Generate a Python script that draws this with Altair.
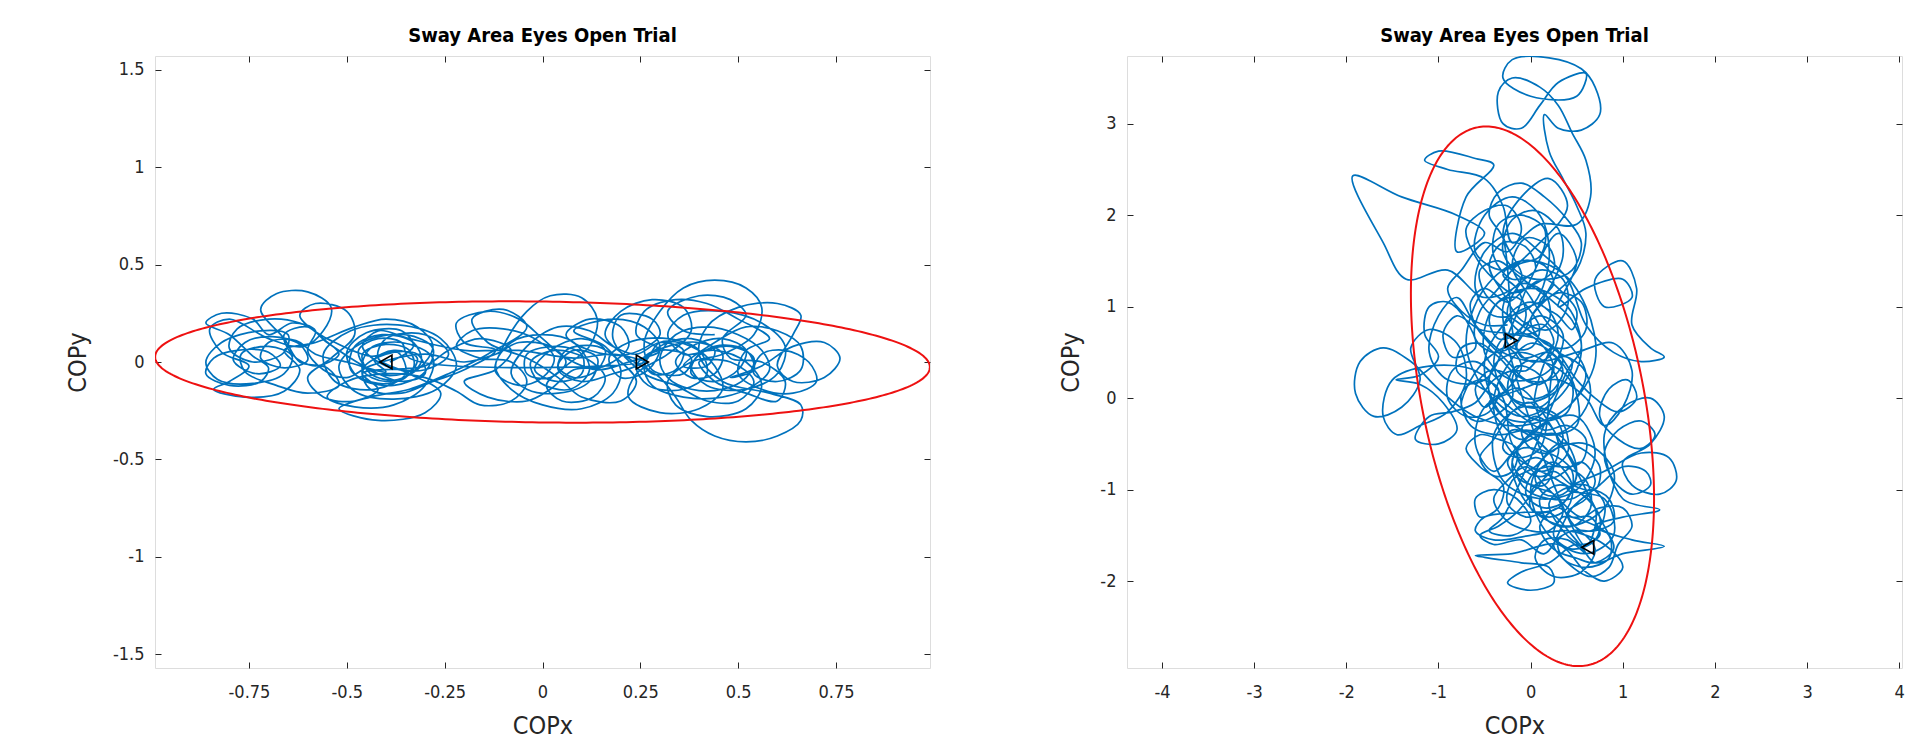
import altair as alt
import numpy as np
import pandas as pd

TITLE = "Sway Area Eyes Open Trial"

# ---------------- Left panel data ----------------
left_x_ticks = [-0.75, -0.5, -0.25, 0, 0.25, 0.5, 0.75]
left_y_ticks = [-1.5, -1, -0.5, 0, 0.5, 1, 1.5]
left_x_domain = [-0.99, 0.99]
left_y_domain = [-1.57, 1.57]

left_cop_x = [
    -0.39, -0.33, -0.36, -0.45, -0.50, -0.47, -0.38, -0.30, -0.28, -0.35, -0.46, -0.52, -0.48, -0.38, -0.27, -0.22, -0.26, -0.37, -0.49, -0.56, -0.53, -0.43, -0.35, -0.37, -0.44,
    -0.55, -0.62, -0.70, -0.78, -0.80, -0.74, -0.66, -0.65, -0.72, -0.82, -0.86, -0.83, -0.74, -0.66, -0.64, -0.70, -0.77, -0.76, -0.68, -0.60, -0.52, -0.55, -0.62,
    -0.66, -0.72, -0.68, -0.60, -0.54, -0.56, -0.61,
    -0.70, -0.80, -0.85, -0.82, -0.75, -0.80, -0.84, -0.76, -0.66, -0.62, -0.66, -0.58,
    -0.48, -0.40, -0.32, -0.28, -0.32, -0.40, -0.46, -0.44, -0.36, -0.28, -0.30, -0.38, -0.48, -0.55, -0.50,
    -0.40, -0.30, -0.22, -0.16, -0.08, -0.04, -0.08, -0.16, -0.22, -0.18, -0.10,
    -0.02, 0.03, 0.00, -0.06, -0.12, -0.10, -0.04, 0.02, 0.10, 0.14, 0.12, 0.06, 0.01, 0.05, 0.13, 0.16, 0.11, 0.03, -0.03, -0.01, 0.07, 0.12, 0.08, 0.00, -0.08, -0.12, -0.08, 0.00, 0.10, 0.18, 0.20, 0.16, 0.08,
    0.18, 0.26, 0.30, 0.27, 0.20, 0.17, 0.22, 0.32, 0.40, 0.42, 0.36, 0.27, 0.24, 0.30, 0.38, 0.36, 0.28,
    0.26, 0.30, 0.36, 0.44, 0.52, 0.56, 0.54, 0.46, 0.38, 0.32, 0.34, 0.42, 0.52, 0.56, 0.52, 0.44, 0.36,
    0.32, 0.36, 0.46, 0.56, 0.62, 0.60, 0.52, 0.42, 0.38, 0.44, 0.52, 0.54, 0.48,
    0.56, 0.64, 0.72, 0.76, 0.72, 0.64, 0.60, 0.64, 0.66, 0.60, 0.50,
    0.42, 0.40, 0.46, 0.58, 0.66, 0.66, 0.60, 0.52, 0.44, 0.38, 0.34, 0.30,
    0.22, 0.16, 0.20, 0.28, 0.36, 0.38, 0.32, 0.24, 0.22, 0.30, 0.40, 0.46, 0.44, 0.38, 0.30, 0.26,
    0.18, 0.10, 0.04, 0.06, 0.14, 0.20, 0.24, 0.20, 0.10, 0.04, -0.04, -0.14, -0.18, -0.10, -0.04,
    -0.14, -0.24, -0.34, -0.44, -0.52, -0.42, -0.30, -0.26, -0.34, -0.42, -0.40, -0.30, -0.24, -0.30, -0.40, -0.46, -0.42, -0.34,
    -0.20, -0.06, 0.08, 0.18, 0.26,
]
left_cop_y = [
    0.00, 0.08, 0.16, 0.15, 0.05, -0.08, -0.12, -0.05, 0.07, 0.14, 0.10, -0.02, -0.15, -0.19, -0.14, -0.02, 0.12, 0.19, 0.16, 0.04, -0.10, -0.14, -0.06, 0.05, 0.03,
    0.12, 0.20, 0.22, 0.17, 0.07, 0.00, 0.05, 0.14, 0.16, 0.10, 0.00, -0.09, -0.11, -0.06, 0.03, 0.08, 0.04, -0.05, -0.12, -0.16, -0.12, -0.03, 0.00,
    0.12, 0.27, 0.35, 0.36, 0.28, 0.16, 0.08,
    0.12, 0.22, 0.17, 0.05, -0.02, -0.10, -0.14, -0.18, -0.15, -0.04, 0.06, 0.10,
    0.18, 0.22, 0.18, 0.08, -0.04, -0.10, -0.04, 0.07, 0.10, 0.02, -0.12, -0.22, -0.23, -0.18, -0.10,
    -0.06, -0.08, -0.15, -0.22, -0.20, -0.10, 0.00, 0.02, 0.08, 0.16, 0.17,
    0.12, 0.02, -0.08, -0.12, -0.05, 0.08, 0.26, 0.34, 0.33, 0.22, 0.08, -0.02, -0.12, -0.20, -0.18, -0.08, 0.02, 0.06, 0.00, -0.10, -0.14, -0.04, 0.10, 0.14, 0.10, -0.02, -0.14, -0.22, -0.24, -0.16, -0.04, 0.08, 0.16,
    0.22, 0.18, 0.08, -0.04, -0.08, 0.02, 0.10, 0.12, 0.06, -0.06, -0.14, -0.12, -0.02, 0.06, 0.02, -0.06, -0.04,
    0.10, 0.26, 0.38, 0.42, 0.38, 0.28, 0.14, 0.04, 0.00, -0.10, -0.22, -0.28, -0.24, -0.12, 0.00, 0.06, 0.04,
    0.14, 0.24, 0.26, 0.20, 0.08, -0.06, -0.14, -0.12, -0.02, 0.08, 0.06, -0.04, -0.08,
    -0.02, 0.08, 0.10, 0.02, -0.08, -0.10, -0.02, 0.14, 0.24, 0.30, 0.28,
    0.18, 0.04, -0.10, -0.16, -0.22, -0.30, -0.38, -0.41, -0.38, -0.30, -0.18, -0.08,
    0.02, 0.14, 0.26, 0.32, 0.28, 0.16, 0.04, -0.06, -0.18, -0.26, -0.24, -0.14, -0.02, 0.08, 0.10, 0.00,
    -0.06, -0.10, -0.04, 0.06, 0.08, 0.00, -0.10, -0.20, -0.18, -0.08, 0.02, 0.10, 0.22, 0.27, 0.18,
    0.04, -0.06, -0.14, -0.18, -0.24, -0.30, -0.26, -0.16, -0.06, 0.02, 0.12, 0.14, 0.04, -0.04, -0.02, 0.08, 0.16, 0.12,
    0.06, 0.06, 0.02, 0.04, 0.00,
]
# further loops, as (COPx, COPy) pairs
left_loops_near_minus04 = [
    (-0.34, 0.02), (-0.36, 0.10), (-0.42, 0.12), (-0.47, 0.06), (-0.45, -0.03), (-0.39, -0.07), (-0.33, -0.03), (-0.34, 0.06),
    (-0.40, 0.09), (-0.46, 0.04), (-0.44, -0.06), (-0.37, -0.09), (-0.31, 0.00), (-0.33, 0.10), (-0.41, 0.14), (-0.48, 0.08),
    (-0.49, -0.04), (-0.42, -0.11), (-0.35, -0.08), (-0.32, 0.02), (-0.38, 0.06), (-0.43, 0.01), (-0.40, -0.05),
]
left_loops_far_left = [
    (-0.50, 0.00), (-0.58, 0.04), (-0.63, 0.11), (-0.70, 0.10), (-0.72, 0.02), (-0.66, -0.03), (-0.60, 0.01), (-0.62, 0.09),
    (-0.69, 0.13), (-0.76, 0.10), (-0.79, 0.01), (-0.73, -0.06), (-0.67, -0.02), (-0.70, 0.05), (-0.78, 0.06), (-0.84, 0.02),
    (-0.86, -0.06), (-0.80, -0.12), (-0.72, -0.10), (-0.70, -0.03), (-0.74, 0.03), (-0.80, 0.14), (-0.86, 0.20), (-0.82, 0.25),
    (-0.74, 0.22), (-0.70, 0.14), (-0.64, 0.20), (-0.58, 0.16), (-0.60, 0.06), (-0.56, -0.04), (-0.50, -0.08), (-0.44, -0.02),
]
left_loops_middle = [
    (-0.30, 0.04), (-0.20, 0.00), (-0.12, 0.04), (-0.06, 0.10), (0.02, 0.08), (0.06, 0.00), (0.02, -0.08), (-0.04, -0.06),
    (-0.04, 0.04), (0.04, 0.08), (0.10, 0.04), (0.10, -0.06), (0.04, -0.10), (-0.02, -0.04), (0.02, 0.06), (0.10, 0.12),
    (0.16, 0.06), (0.14, -0.04), (0.08, -0.08), (0.04, -0.02), (0.08, 0.06), (0.14, 0.02), (0.12, -0.10), (0.04, -0.16),
    (-0.04, -0.14), (-0.08, -0.06), (-0.04, 0.08), (0.04, 0.18), (0.12, 0.16), (0.18, 0.08),
]
left_loops_right_cluster = [
    (0.24, 0.04), (0.30, 0.10), (0.36, 0.06), (0.34, -0.04), (0.28, -0.06), (0.26, 0.02), (0.32, 0.08), (0.40, 0.10),
    (0.46, 0.04), (0.44, -0.06), (0.38, -0.08), (0.34, 0.00), (0.38, 0.08), (0.46, 0.12), (0.52, 0.06), (0.50, -0.04),
    (0.44, -0.10), (0.38, -0.06), (0.40, 0.04), (0.48, 0.08), (0.54, 0.02), (0.52, -0.08), (0.46, -0.14), (0.38, -0.14),
    (0.32, -0.08), (0.30, 0.02), (0.34, 0.14), (0.42, 0.18), (0.50, 0.14), (0.56, 0.06), (0.58, -0.04), (0.54, -0.12),
    (0.46, -0.18), (0.36, -0.18), (0.28, -0.12), (0.26, -0.02), (0.30, 0.08), (0.38, 0.12), (0.44, 0.06), (0.42, -0.02),
    (0.36, -0.02), (0.44, 0.10), (0.52, 0.18), (0.60, 0.16), (0.66, 0.08), (0.66, -0.04), (0.60, -0.10), (0.54, -0.06),
    (0.56, 0.04), (0.62, 0.06), (0.68, 0.00), (0.70, -0.10), (0.64, -0.16), (0.56, -0.14), (0.50, -0.06), (0.52, 0.06),
    (0.58, 0.12), (0.50, 0.22), (0.42, 0.30), (0.34, 0.32), (0.26, 0.26), (0.24, 0.14), (0.30, 0.06), (0.22, 0.00),
]
left_loops_return = [
    (0.14, -0.04), (0.06, 0.02), (0.00, 0.12), (-0.06, 0.22), (-0.14, 0.26), (-0.22, 0.20), (-0.20, 0.10), (-0.12, 0.06),
    (-0.20, -0.04), (-0.28, -0.10), (-0.36, -0.16), (-0.44, -0.14), (-0.46, -0.04), (-0.40, 0.04), (-0.32, 0.04), (-0.30, -0.06),
    (-0.36, -0.10), (-0.42, -0.06),
]
left_loops_extra = [
    (-0.55, 0.10), (-0.60, 0.18), (-0.66, 0.14), (-0.64, 0.04), (-0.58, -0.02), (-0.52, 0.04), (-0.56, 0.12), (-0.62, 0.24),
    (-0.58, 0.30), (-0.50, 0.26), (-0.48, 0.14), (-0.54, 0.02), (-0.60, -0.08), (-0.56, -0.18), (-0.48, -0.20), (-0.42, -0.14),
    (-0.46, -0.06), (-0.30, -0.02), (-0.24, 0.06), (-0.16, 0.12), (-0.08, 0.06), (-0.12, -0.04), (-0.20, -0.10), (-0.14, -0.18),
    (-0.04, -0.20), (0.02, -0.14), (0.08, -0.04), (0.16, -0.02), (0.22, 0.08), (0.20, 0.18), (0.12, 0.22), (0.06, 0.14),
    (0.12, 0.06), (0.22, 0.04), (0.30, 0.14), (0.28, 0.22), (0.20, 0.24), (0.18, 0.12), (0.26, -0.06), (0.34, -0.12),
    (0.42, -0.20), (0.50, -0.20), (0.54, -0.10), (0.48, 0.00), (0.40, 0.00), (0.44, -0.10), (0.52, -0.16), (0.60, -0.20),
    (0.62, -0.10), (0.56, 0.00), (0.48, 0.02), (0.46, 0.12), (0.52, 0.24), (0.48, 0.32), (0.40, 0.34), (0.32, 0.26),
    (0.36, 0.16), (0.44, 0.14),
]
# confidence ellipse: centre x, centre y, semi-major, semi-minor, angle of major axis (deg)
left_ellipse = [0.0, 0.0, 0.99, 0.31, -1.7]
left_markers_x = [-0.40, 0.255]
left_markers_y = [0.0, 0.0]
left_markers_shape = ["triangle-left", "triangle-right"]

# ---------------- Right panel data ----------------
right_x_ticks = [-4, -3, -2, -1, 0, 1, 2, 3, 4]
right_y_ticks = [-2, -1, 0, 1, 2, 3]
right_x_domain = [-4.38, 4.03]
right_y_domain = [-2.95, 3.74]

right_cop_x = [
    -0.22, 0.10, 0.35, 0.20, -0.20, -0.50, -0.40, 0.00, 0.40, 0.55, 0.30, -0.10, -0.50, -0.70, -0.50, -0.10, 0.30, 0.60, 0.70, 0.40,
    -0.10, -0.60, -1.00, -1.30, -1.60, -1.85, -1.90, -1.70, -1.40, -1.20, -1.30, -1.10, -0.80, -0.70, -0.90, -1.20, -1.45, -1.60, -1.50, -1.10, -0.60, -0.30,
    -0.20, 0.10, 0.40, 0.30, -0.10, -0.40, -0.30, 0.10, 0.50, 0.70, 0.50, 0.10, -0.20, 0.00, 0.40, 0.80, 0.90, 0.60, 0.20, 0.00, 0.20, 0.60, 0.90, 0.80, 0.40,
    0.80, 1.20, 1.50, 1.58, 1.40, 1.10, 1.00, 1.30, 1.45, 1.30, 1.00, 0.80, 1.00, 1.40, 1.00, 0.70, 1.10, 1.45, 1.00, 0.70, 0.50,
    0.20, -0.10, -0.25, 0.00, 0.25, 0.20, -0.10, -0.50, -0.60, -0.20, 0.30, 0.60, 0.80, 1.00, 0.80, 0.40, 0.00, -0.40, -0.60, -0.50, -0.10, 0.30,
    0.50, 0.30, -0.10, -0.40, -0.60, -0.50, -0.10, 0.30, 0.60, 0.80, 1.00, 1.10, 0.90, 0.50, 0.10, -0.30, -0.60, -0.80, -1.00, -1.10, -0.90, -0.50,
    -0.20, 0.00, 0.30, 0.50, 0.30, 0.60, 1.00, 1.10, 0.80, 0.70, 1.00, 1.15, 1.10, 1.30, 1.45, 1.20, 0.90, 0.60, 0.40, 0.10, -0.20, -0.50, -0.60, -0.40, 0.00,
    0.20, 0.10, -0.20, -0.50, -0.60, -0.30, 0.10, 0.40, 0.20, -0.10, -0.30, -0.10,
    -0.50, -0.90, -1.35, -1.60, -1.93, -1.40, -0.80, -0.50, -0.80, -0.70, -0.40, -0.60, -1.00, -1.15, -0.90, -0.50, -0.30, -0.20,
    0.10, 0.50, 0.65, 0.60, 0.45, 0.30, 0.10, -0.20, -0.35, -0.30, -0.10, 0.10, 0.30, 0.60, 0.50, 0.00, -0.30, -0.20, 0.20, 0.55, 0.70, 0.75, 0.55, 0.30, 0.15, 0.20, 0.35, 0.50, 0.60, 0.50,
    0.20, -0.20, -0.50, -0.30, 0.10, 0.50, 0.40, 0.00, -0.40, -0.20, 0.30, 0.70, 0.60,
]
right_cop_y = [
    0.64, 0.90, 0.70, 0.30, 0.20, 0.50, 1.00, 1.20, 1.00, 0.50, 0.00, -0.20, 0.10, 0.60, 1.20, 1.50, 1.40, 1.00, 0.40, -0.10,
    -0.30, -0.20, 0.10, 0.40, 0.55, 0.40, 0.05, -0.20, -0.10, 0.20, 0.55, 0.75, 0.60, 0.20, -0.15, -0.30, -0.40, -0.20, 0.20, 0.35, 0.30, 0.00,
    -0.50, -0.80, -0.60, -0.20, -0.10, -0.40, -0.90, -1.10, -1.00, -0.60, -0.20, -0.30, -0.70, -1.20, -1.40, -1.20, -0.80, -0.50, -0.60, -1.00, -1.50, -1.70, -1.50, -1.10, -1.00,
    -0.80, -0.60, -0.65, -0.90, -1.05, -0.95, -0.70, -0.50, -0.20, 0.00, -0.10, -0.40, -1.10, -1.22, -1.30, -1.40, -1.55, -1.62, -1.70, -1.80, -1.60,
    -1.80, -1.90, -2.02, -2.10, -2.02, -1.85, -1.80, -1.74, -1.72, -1.70, -1.60, -1.90, -2.00, -1.85, -1.60, -1.45, -1.50, -1.55, -1.45, -1.30, -1.25, -1.20,
    -0.80, -0.40, -0.50, -0.80, -0.50, -0.10, 0.10, 0.20, 0.00, -0.30, -0.10, 0.30, 0.60, 0.50, 0.40, 0.50, 0.80, 1.10, 0.90, 0.50, 0.20, 0.20,
    0.80, 1.30, 1.80, 1.50, 1.00, 1.20, 1.30, 1.10, 1.00, 1.30, 1.50, 1.20, 0.80, 0.55, 0.45, 0.40, 0.50, 0.80, 1.30, 1.60, 1.80, 1.60, 1.20, 0.90, 1.00,
    1.50, 2.00, 2.20, 2.00, 1.60, 1.40, 1.70, 2.10, 2.40, 2.20, 1.80, 1.30,
    1.10, 1.40, 1.30, 1.70, 2.43, 2.20, 2.00, 1.80, 1.60, 2.20, 2.55, 2.62, 2.70, 2.60, 2.50, 2.40, 2.10, 1.70,
    1.90, 1.90, 2.20, 2.60, 2.90, 3.20, 3.40, 3.50, 3.35, 3.00, 2.95, 3.20, 3.45, 3.55, 3.30, 3.30, 3.50, 3.70, 3.72, 3.60, 3.40, 3.10, 2.93, 2.95, 3.10, 2.70, 2.40, 2.10, 1.80, 1.40,
    1.10, 0.90, 0.40, -0.20, -0.40, -0.30, 0.30, 0.60, 0.00, -0.60, -0.90, -1.20, -1.62,
]
right_loops_upper_core = [
    (-0.30, 1.00), (-0.10, 1.25), (0.15, 1.15), (0.20, 0.85), (-0.05, 0.70), (-0.25, 0.90), (-0.15, 1.20), (0.10, 1.40),
    (0.35, 1.30), (0.40, 1.00), (0.20, 0.75), (-0.10, 0.85), (-0.30, 1.15), (-0.45, 1.45), (-0.30, 1.70), (-0.05, 1.65),
    (0.05, 1.40), (-0.20, 1.30), (-0.40, 1.55), (-0.35, 1.90), (-0.10, 2.00), (0.15, 1.85), (0.10, 1.55), (-0.15, 1.45),
    (-0.35, 1.20), (-0.55, 0.95), (-0.60, 0.65), (-0.40, 0.50), (-0.15, 0.60), (0.05, 0.95), (0.30, 1.15), (0.55, 1.05),
    (0.60, 0.75), (0.40, 0.55), (0.15, 0.60), (0.00, 0.85), (0.15, 1.10), (0.35, 1.55), (0.30, 1.85), (0.05, 2.05),
    (-0.20, 1.95), (-0.30, 1.60), (-0.10, 1.35), (0.20, 1.30), (0.45, 1.40), (0.55, 1.70), (0.40, 1.95), (0.15, 2.20),
    (-0.10, 2.35), (-0.35, 2.25), (-0.45, 2.00), (-0.30, 1.75),
]
right_loops_middle_core = [
    (-0.10, 0.45), (0.20, 0.50), (0.35, 0.30), (0.20, 0.05), (-0.05, 0.00), (-0.20, 0.20), (-0.05, 0.40), (0.25, 0.35),
    (0.45, 0.15), (0.40, -0.15), (0.15, -0.25), (-0.10, -0.15), (-0.25, 0.10), (-0.15, 0.35), (0.10, 0.25), (0.20, -0.05),
    (0.00, -0.25), (-0.30, -0.20), (-0.45, 0.05), (-0.40, 0.35), (-0.15, 0.50), (0.15, 0.40), (0.30, 0.15), (0.10, -0.10),
    (-0.15, -0.05), (-0.35, 0.20), (-0.60, 0.40), (-0.85, 0.30), (-0.90, 0.00), (-0.70, -0.20), (-0.45, -0.15), (-0.35, 0.10),
    (-0.55, 0.20), (-0.75, 0.05), (-0.65, -0.30), (-0.35, -0.40), (-0.05, -0.35), (0.25, -0.40), (0.50, -0.25), (0.65, 0.05),
    (0.55, 0.35), (0.30, 0.45),
]
right_loops_lower_core = [
    (0.10, -0.55), (-0.15, -0.65), (-0.30, -0.55), (-0.20, -0.35), (0.05, -0.45), (0.25, -0.70), (0.15, -0.95), (-0.10, -0.90),
    (-0.25, -0.70), (-0.10, -0.55), (0.20, -0.60), (0.45, -0.80), (0.40, -1.10), (0.15, -1.20), (-0.05, -1.05), (0.05, -0.80),
    (0.35, -0.75), (0.60, -0.90), (0.65, -1.20), (0.45, -1.40), (0.20, -1.35), (0.10, -1.10), (0.30, -0.95), (0.55, -1.05),
    (0.75, -1.30), (0.70, -1.55), (0.45, -1.65), (0.25, -1.50), (0.35, -1.30), (0.60, -1.35), (0.85, -1.50), (0.85, -1.75),
    (0.60, -1.85), (0.35, -1.75), (0.30, -1.55), (0.50, -1.45), (0.70, -1.65), (0.55, -1.90), (0.25, -1.95), (0.05, -1.75),
    (0.15, -1.55), (0.40, -1.55), (0.60, -1.70), (0.45, -1.50), (0.20, -1.25), (-0.05, -1.30), (-0.25, -1.15), (-0.20, -0.90),
    (0.05, -0.75), (0.30, -0.50), (0.55, -0.55), (0.75, -0.75), (0.70, -1.00), (0.45, -0.95), (0.25, -0.80), (0.05, -1.00),
    (-0.15, -1.25), (-0.35, -1.40), (-0.55, -1.50), (-0.40, -1.60), (-0.10, -1.55), (0.15, -1.70),
]
right_loops_right_side = [
    (0.45, -1.20), (0.75, -0.95), (1.00, -0.75), (1.25, -0.80), (1.30, -0.95), (1.10, -1.05), (0.90, -0.90), (0.80, -0.60),
    (0.95, -0.35), (1.20, -0.25), (1.35, -0.40), (1.20, -0.55), (0.95, -0.45), (0.75, -0.20), (0.85, 0.10), (1.05, 0.20),
    (1.15, 0.00), (0.95, -0.15), (0.70, 0.00), (0.50, 0.20),
]
right_loops_left_side = [
    (0.20, 0.60), (-0.20, 0.70), (-0.55, 0.75), (-0.80, 0.90), (-0.95, 0.70), (-0.85, 0.45), (-0.60, 0.55), (-0.70, 0.85),
    (-0.90, 1.05), (-1.10, 1.00), (-1.15, 0.70), (-1.00, 0.45), (-1.20, 0.25), (-1.46, 0.20), (-1.20, 0.15), (-0.95, -0.05),
    (-0.80, -0.35), (-1.00, -0.50), (-1.25, -0.45), (-1.10, -0.20), (-0.85, -0.15), (-0.60, -0.05), (-0.40, 0.20), (-0.20, 0.30),
]
right_loops_dense_upper = [
    (-0.05, 0.30), (0.10, 0.45), (0.25, 0.60), (0.15, 0.80), (-0.05, 0.75), (-0.15, 0.55), (0.00, 0.40), (0.20, 0.45),
    (0.30, 0.70), (0.20, 0.95), (0.00, 1.05), (-0.20, 0.95), (-0.30, 0.75), (-0.20, 0.55), (0.00, 0.55), (0.10, 0.75),
    (0.00, 0.95), (-0.15, 1.10), (-0.35, 1.05), (-0.45, 0.85), (-0.35, 0.65), (-0.15, 0.70), (-0.05, 0.90), (-0.15, 1.20),
    (-0.30, 1.35), (-0.10, 1.50), (0.15, 1.45), (0.25, 1.25), (0.10, 1.05), (0.30, 0.90), (0.45, 0.75), (0.50, 0.95),
    (0.35, 1.15), (0.15, 1.30), (-0.05, 1.20), (-0.25, 1.05), (-0.50, 1.20), (-0.65, 1.05), (-0.60, 0.80), (-0.45, 0.60),
    (-0.25, 0.40), (-0.05, 0.20), (0.20, 0.20), (0.35, 0.40), (0.25, 0.55),
]
right_loops_dense_lower = [
    (0.05, -0.10), (0.25, -0.20), (0.35, -0.45), (0.20, -0.60), (0.00, -0.55), (-0.10, -0.35), (0.05, -0.20), (0.25, -0.35),
    (0.30, -0.60), (0.15, -0.85), (-0.05, -0.80), (-0.15, -0.60), (0.00, -0.40), (0.20, -0.45), (0.40, -0.60), (0.50, -0.85),
    (0.35, -1.05), (0.15, -1.05), (0.05, -0.85), (0.25, -0.70), (0.45, -0.95), (0.40, -1.20), (0.20, -1.30), (0.00, -1.20),
    (0.05, -0.95), (0.30, -0.85), (0.55, -0.70), (0.70, -0.90), (0.60, -1.10), (0.40, -1.25), (0.55, -1.45), (0.75, -1.40),
    (0.80, -1.15), (0.60, -0.95), (0.35, -1.00), (0.20, -1.15), (0.35, -1.45), (0.55, -1.60), (0.75, -1.50), (0.65, -1.30),
    (0.45, -1.30), (0.30, -1.20), (0.10, -1.40), (0.25, -1.65), (0.50, -1.75), (0.70, -1.80), (0.90, -1.65), (0.80, -1.40),
]
right_loops_dense_left = [
    (-0.10, 0.10), (-0.30, 0.05), (-0.50, -0.10), (-0.60, 0.10), (-0.45, 0.30), (-0.25, 0.25), (-0.20, 0.00), (-0.40, -0.20),
    (-0.60, -0.25), (-0.75, -0.10), (-0.65, 0.20), (-0.45, 0.45), (-0.25, 0.55), (-0.10, 0.35), (-0.25, 0.10), (-0.45, -0.05),
    (-0.30, -0.30), (-0.10, -0.45), (0.10, -0.30), (0.00, -0.05), (-0.20, -0.15), (-0.40, -0.45), (-0.55, -0.65), (-0.40, -0.85),
    (-0.20, -0.80), (-0.15, -0.55), (-0.35, -0.45), (-0.55, -0.40), (-0.70, -0.55), (-0.55, -0.75), (-0.30, -0.95), (-0.35, -1.20),
    (-0.55, -1.30), (-0.60, -1.10), (-0.40, -1.00), (-0.15, -1.10), (0.00, -1.35), (-0.20, -1.50), (-0.45, -1.45), (-0.30, -1.30),
]
right_loops_dense_extra = [
    (0.40, 0.30), (0.55, 0.55), (0.45, 0.85), (0.25, 1.05), (0.05, 1.20), (-0.15, 1.35), (-0.35, 1.50), (-0.55, 1.40),
    (-0.50, 1.15), (-0.30, 0.95), (-0.10, 0.80), (0.10, 0.65), (0.30, 0.50), (0.45, 0.40), (0.35, 0.15), (0.15, 0.00),
    (-0.10, -0.05), (-0.30, 0.10), (-0.40, 0.40), (-0.30, 0.65), (-0.05, 0.70), (0.15, 0.55), (0.25, 0.30), (0.10, 0.15),
    (-0.15, 0.25), (-0.35, 0.45), (-0.55, 0.60), (-0.75, 0.55), (-0.80, 0.30), (-0.60, 0.15), (-0.35, 0.00), (-0.10, -0.20),
    (0.15, -0.35), (0.40, -0.30), (0.60, -0.45), (0.55, -0.70), (0.30, -0.75), (0.05, -0.65), (-0.15, -0.80), (-0.05, -1.00),
    (0.20, -1.10), (0.45, -1.10), (0.65, -1.00), (0.85, -1.10), (0.90, -1.35), (0.70, -1.45), (0.45, -1.45), (0.25, -1.60),
    (0.40, -1.80), (0.65, -1.95), (0.85, -1.85), (0.95, -1.60), (1.10, -1.40), (1.00, -1.20), (0.75, -1.20), (0.55, -1.30),
    (0.35, -1.15), (0.15, -0.95), (-0.05, -0.75), (-0.25, -0.90), (-0.40, -1.10), (-0.25, -1.35), (0.00, -1.45), (0.20, -1.45),
    (0.35, -1.25), (0.25, -1.05), (0.00, -0.95), (-0.20, -0.70), (-0.05, -0.45), (0.20, -0.25), (0.45, -0.05), (0.60, 0.25),
    (0.45, 0.55), (0.20, 0.80), (0.00, 1.10), (-0.20, 1.45), (-0.05, 1.75), (0.20, 1.65), (0.25, 1.40), (0.05, 1.25),
    (-0.20, 1.15), (-0.40, 1.30), (-0.60, 1.55), (-0.70, 1.85), (-0.50, 2.05), (-0.25, 2.10), (-0.10, 1.85), (-0.25, 1.60),
    (-0.50, 1.70), (-0.75, 1.40), (-0.90, 1.20), (-0.75, 0.95), (-0.50, 0.80), (-0.25, 0.80),
]
right_ellipse = [0.02, 0.02, 3.0, 1.2, 101.5]
right_markers_x = [-0.21, 0.62]
right_markers_y = [0.63, -1.63]
right_markers_shape = ["triangle-right", "triangle-left"]

AXIS_GREY = "#262626"
FONT = "Liberation Sans Narrow, DejaVu Sans Condensed, Liberation Sans, Arial"


def ellipse_frame(params):
    cx, cy, a, b, ang = params
    t = np.linspace(0, 2 * np.pi, 361)
    th = np.deg2rad(ang)
    ex = cx + a * np.cos(t) * np.cos(th) - b * np.sin(t) * np.sin(th)
    ey = cy + a * np.cos(t) * np.sin(th) + b * np.sin(t) * np.cos(th)
    return pd.DataFrame({"x": ex, "y": ey, "i": np.arange(len(t))})


def path_frame(xs, ys, extra_segments):
    px = list(xs)
    py = list(ys)
    for seg in extra_segments:
        px += [p[0] for p in seg]
        py += [p[1] for p in seg]
    return pd.DataFrame({"x": px, "y": py, "i": np.arange(len(px))})


def panel(traj, ell, mx, my, mshape, xdom, ydom, xt, yt, ytitle_pad):
    edf = ellipse_frame(ell)
    mdf = pd.DataFrame({"x": mx, "y": my, "shape": mshape})
    xs = alt.Scale(domain=xdom, nice=False, zero=False)
    ys = alt.Scale(domain=ydom, nice=False, zero=False)
    lab = "datum.value + ''"
    common = dict(grid=False, domain=False, offset=-6, tickSize=6, tickColor=AXIS_GREY,
                  tickWidth=1, labelFont=FONT, titleFont=FONT, labelColor=AXIS_GREY,
                  titleColor=AXIS_GREY, labelFontSize=18, titleFontSize=25,
                  titleFontWeight="normal", labelExpr=lab)
    x_bottom = alt.Axis(orient="bottom", values=xt, title="COPx", labelPadding=15,
                        titlePadding=12, **common)
    y_left = alt.Axis(orient="left", values=yt, title="COPy", labelPadding=11,
                      titlePadding=ytitle_pad, **common)
    x_top = alt.Axis(orient="top", values=xt, title="", labels=False, **common)
    y_right = alt.Axis(orient="right", values=yt, title="", labels=False, **common)

    line = alt.Chart(traj).mark_line(color="#0072BD", strokeWidth=1.7,
                                     interpolate="catmull-rom", clip=True).encode(
        x=alt.X("x:Q", scale=xs, axis=x_bottom),
        y=alt.Y("y:Q", scale=ys, axis=y_left),
        order="i:Q",
    )
    ellipse = alt.Chart(edf).mark_line(color="#EE1111", strokeWidth=2, clip=True).encode(
        x=alt.X("x:Q", scale=xs, axis=x_top),
        y=alt.Y("y:Q", scale=ys, axis=y_right),
        order="i:Q",
    )
    marks = alt.Chart(mdf).mark_point(filled=False, color="#000000", strokeWidth=1.7,
                                      size=190, opacity=1).encode(
        x=alt.X("x:Q", scale=xs, axis=None),
        y=alt.Y("y:Q", scale=ys, axis=None),
        shape=alt.Shape("shape:N", scale=None, legend=None),
    )
    return alt.layer(line, ellipse, marks).properties(
        width=775, height=612,
        title=alt.TitleParams(TITLE, font=FONT, fontSize=20, fontWeight="bold",
                              color="#000000", offset=10),
    )


left_traj = path_frame(left_cop_x, left_cop_y,
                       [left_loops_near_minus04, left_loops_far_left, left_loops_middle,
                        left_loops_right_cluster, left_loops_return, left_loops_extra])
right_traj = path_frame(right_cop_x, right_cop_y,
                        [right_loops_upper_core, right_loops_middle_core, right_loops_lower_core,
                         right_loops_right_side, right_loops_left_side, right_loops_dense_upper,
                         right_loops_dense_lower, right_loops_dense_left, right_loops_dense_extra])

left = panel(left_traj, left_ellipse, left_markers_x, left_markers_y, left_markers_shape,
             left_x_domain, left_y_domain, left_x_ticks, left_y_ticks, 22)
right = panel(right_traj, right_ellipse, right_markers_x, right_markers_y, right_markers_shape,
              right_x_domain, right_y_domain, right_x_ticks, right_y_ticks, 16)

chart = alt.hconcat(left, right, spacing=127).properties(
    padding={"left": 56, "top": 17, "right": 5, "bottom": 5}
).configure_view(stroke=AXIS_GREY, strokeWidth=1.2).configure(background="white")

chart.save("out.html", embed_options={"renderer": "svg", "actions": False})
